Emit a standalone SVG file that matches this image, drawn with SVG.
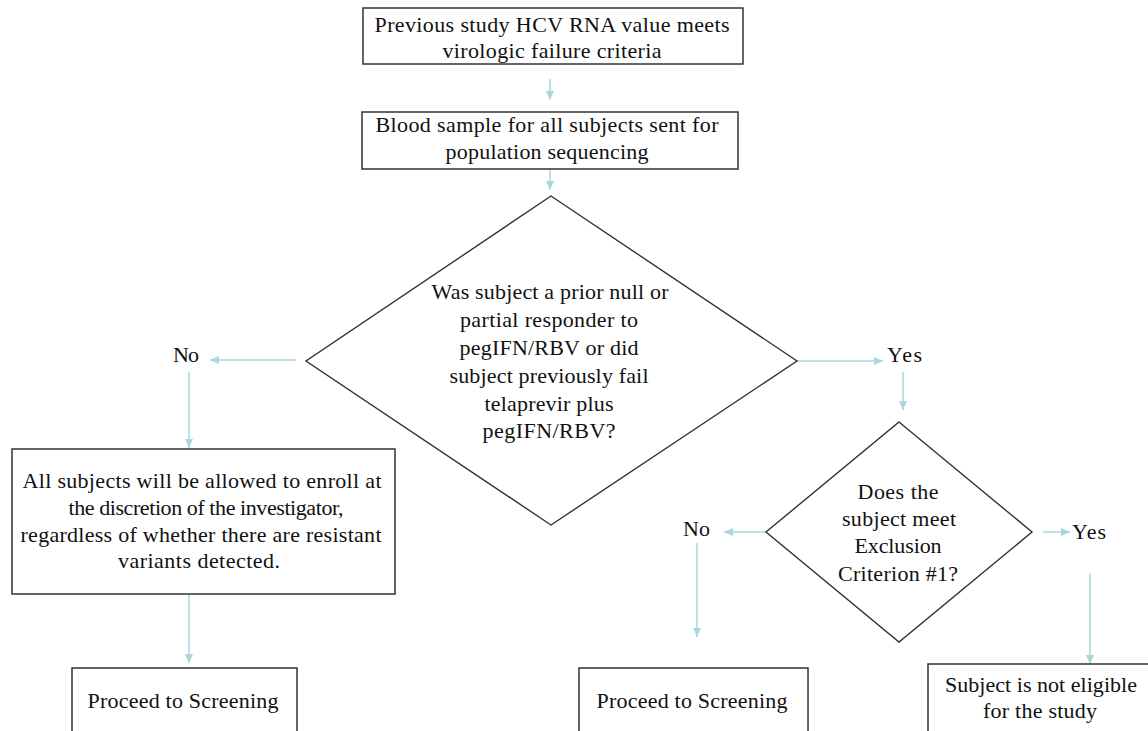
<svg xmlns="http://www.w3.org/2000/svg" width="1148" height="731" viewBox="0 0 1148 731">
<style>
.box{fill:#fff;stroke:#333;stroke-width:1.5}
.dia{fill:#fff;stroke:#333;stroke-width:1.4}
text{font-family:'Liberation Serif','DejaVu Serif',serif;font-size:22px;fill:#111}
.t{text-anchor:middle}
.c{fill:none;stroke:#a9d7db;stroke-width:1.5}
</style>
<defs>
<marker id="ah" markerUnits="userSpaceOnUse" markerWidth="10" markerHeight="8" refX="9" refY="4" orient="auto">
<path d="M0,0 L9,4 L0,8 Z" fill="#a9d7db"/>
</marker>
</defs>
<rect width="1148" height="731" fill="#fff"/>
<g id="connectors">
<path class="c" d="M550,79 V100" marker-end="url(#ah)"/>
<path class="c" d="M550,169 V190" marker-end="url(#ah)"/>
<path class="c" d="M296,360 H210" marker-end="url(#ah)"/>
<path class="c" d="M189,372 V448" marker-end="url(#ah)"/>
<path class="c" d="M189,594 V663" marker-end="url(#ah)"/>
<path class="c" d="M797,361 H883" marker-end="url(#ah)"/>
<path class="c" d="M903,372 V410" marker-end="url(#ah)"/>
<path class="c" d="M767,532 H724" marker-end="url(#ah)"/>
<path class="c" d="M697,543 V637" marker-end="url(#ah)"/>
<path class="c" d="M1043,532 H1070" marker-end="url(#ah)"/>
<path class="c" d="M1090,573 V664" marker-end="url(#ah)"/>
</g>
<g id="n1">
<rect class="box" x="363" y="8" width="380" height="56"/>
<text class="t" x="552" y="32" textLength="355" lengthAdjust="spacing">Previous study HCV RNA value meets</text>
<text class="t" x="552" y="58" textLength="219" lengthAdjust="spacing">virologic  failure  criteria</text>
</g>
<g id="n2">
<rect class="box" x="362" y="112" width="376" height="57"/>
<text class="t" x="547" y="132" textLength="343" lengthAdjust="spacing">Blood sample for all subjects sent for</text>
<text class="t" x="547" y="159" textLength="203" lengthAdjust="spacing">population  sequencing</text>
</g>
<g id="d1">
<polygon class="dia" points="551,196 797,361 551,525 306,361"/>
<text class="t" x="550" y="299" textLength="237" lengthAdjust="spacing">Was subject a prior null or</text>
<text class="t" x="549" y="327" textLength="178" lengthAdjust="spacing">partial responder to</text>
<text class="t" x="549" y="355" textLength="179" lengthAdjust="spacing">pegIFN/RBV or did</text>
<text class="t" x="549" y="383" textLength="199" lengthAdjust="spacing">subject previously  fail</text>
<text class="t" x="549" y="411" textLength="129" lengthAdjust="spacing">telaprevir plus</text>
<text class="t" x="549" y="438" textLength="133" lengthAdjust="spacing">pegIFN/RBV?</text>
</g>
<g id="l_no1"><text x="173" y="362" textLength="26" lengthAdjust="spacing">No</text></g>
<g id="l_yes1"><text x="887" y="362" textLength="35" lengthAdjust="spacing">Yes</text></g>
<g id="n3">
<rect class="box" x="12" y="449" width="383" height="145"/>
<text class="t" x="202" y="488" textLength="359" lengthAdjust="spacing">All subjects will be allowed to enroll at</text>
<text class="t" x="206" y="515" textLength="275" lengthAdjust="spacing">the discretion of the investigator,</text>
<text class="t" x="201" y="542" textLength="361" lengthAdjust="spacing">regardless of whether there are resistant</text>
<text class="t" x="199" y="568" textLength="162" lengthAdjust="spacing">variants detected.</text>
</g>
<g id="n4">
<rect class="box" x="72" y="668" width="225" height="80"/>
<text class="t" x="183" y="708" textLength="191" lengthAdjust="spacing">Proceed to Screening</text>
</g>
<g id="d2">
<polygon class="dia" points="899,422 1032,532 899,642 766,532"/>
<text class="t" x="898" y="499" textLength="81" lengthAdjust="spacing">Does the</text>
<text class="t" x="899" y="526" textLength="114" lengthAdjust="spacing">subject meet</text>
<text class="t" x="898" y="553" textLength="87" lengthAdjust="spacing">Exclusion</text>
<text class="t" x="898" y="581" textLength="120" lengthAdjust="spacing">Criterion  #1?</text>
</g>
<g id="l_no2"><text x="683" y="536" textLength="27" lengthAdjust="spacing">No</text></g>
<g id="l_yes2"><text x="1072" y="539" textLength="34" lengthAdjust="spacing">Yes</text></g>
<g id="n5">
<rect class="box" x="579" y="668" width="229" height="80"/>
<text class="t" x="692" y="708" textLength="191" lengthAdjust="spacing">Proceed to Screening</text>
</g>
<g id="n6">
<rect class="box" x="928" y="664" width="224" height="84"/>
<text class="t" x="1041" y="692" textLength="192" lengthAdjust="spacing">Subject is not eligible</text>
<text class="t" x="1040" y="718" textLength="114" lengthAdjust="spacing">for the study</text>
</g>
</svg>
